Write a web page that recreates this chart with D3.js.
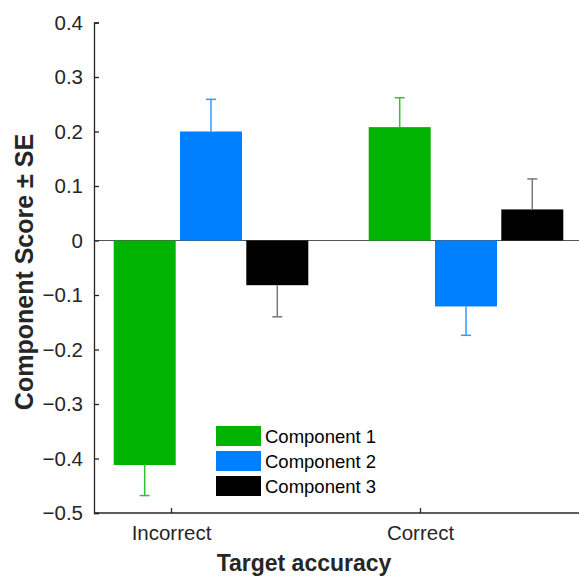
<!DOCTYPE html>
<html>
<head>
<meta charset="UTF-8">
<title>Component Score</title>
<script src="https://cdn.jsdelivr.net/npm/d3@7"></script>
<style>
body { margin: 0; background: #fff; }
text { font-family: Helvetica, "Liberation Sans", Arial, sans-serif; fill: #262626; }
</style>
</head>
<body>
<div id="chart"></div>
<script>
// data
var categories = ['Incorrect', 'Correct'];
var series = ['Component 1', 'Component 2', 'Component 3'];
var colors = ['#00b300', '#0080ff', '#000000'];
var errColors = ['#33c233', '#3399ff', '#777777'];
var means = [
    [-0.412, 0.2, -0.082],
    [0.208, -0.121, 0.057]
];
var errors = [
    [0.056, 0.059, 0.058],
    [0.054, 0.053, 0.056]
];
var yTicks = [-0.5, -0.4, -0.3, -0.2, -0.1, 0, 0.1, 0.2, 0.3, 0.4];

var W = 579, H = 577;
var svg = d3.select('#chart').append('svg').attr('width', W).attr('height', H);

// tick positions and bar group positions (the bars sit a bit right of the ticks)
var x = d3.scaleLinear().domain([1, 2]).range([171, 420]);
var xb = d3.scaleLinear().domain([1, 2]).range([211, 466]);
var y = d3.scaleLinear().domain([-0.5, 0.4]).range([513, 22.5]);
var barW = 62;
var offset = 0.26;

var g = svg.append('g');

// zero line
g.append('line')
    .attr('x1', 94).attr('x2', W)
    .attr('y1', y(0)).attr('y2', y(0))
    .attr('stroke', '#555').attr('stroke-width', 1);

categories.forEach(function(c, ci) {
    means[ci].forEach(function(v, si) {
        var cx = xb(ci + 1 + (si - 1) * offset);
        g.append('rect')
            .attr('x', cx - barW / 2)
            .attr('width', barW)
            .attr('y', y(Math.max(0, v)))
            .attr('height', Math.abs(y(v) - y(0)))
            .attr('fill', colors[si]);
        var end = v < 0 ? v - errors[ci][si] : v + errors[ci][si];
        g.append('line')
            .attr('x1', cx).attr('x2', cx)
            .attr('y1', y(v)).attr('y2', y(end))
            .attr('stroke', errColors[si]).attr('stroke-width', 1.5);
        g.append('line')
            .attr('x1', cx - 5).attr('x2', cx + 5)
            .attr('y1', y(end)).attr('y2', y(end))
            .attr('stroke', errColors[si]).attr('stroke-width', 1.5);
    });
});

// axes
var yAxis = d3.axisLeft(y).tickValues(yTicks).tickSize(-5).tickPadding(11)
    .tickFormat(function(d) { return d === 0 ? '0' : d3.format('.1f')(d); });
var ya = svg.append('g').attr('transform', 'translate(94,0)').call(yAxis);
ya.select('.domain').attr('stroke', '#262626').attr('stroke-width', 1.3);
ya.selectAll('.tick line').attr('stroke', '#262626').attr('stroke-width', 1.3);
ya.selectAll('text').attr('font-size', 20.5).style('fill', '#262626');

var xAxis = d3.axisBottom(x).tickValues([1, 2]).tickSize(-5).tickPadding(12)
    .tickFormat(function(d) { return categories[d - 1]; });
var xa = svg.append('g').attr('transform', 'translate(0,513)').call(xAxis);
xa.select('.domain').attr('d', 'M94,0H' + W).attr('stroke', '#262626').attr('stroke-width', 1.3);
xa.selectAll('.tick line').attr('stroke', '#262626').attr('stroke-width', 1.3);
xa.selectAll('text').attr('font-size', 20.5).style('fill', '#262626');

// axis titles
svg.append('text')
    .attr('transform', 'translate(33,272) rotate(-90)')
    .attr('text-anchor', 'middle')
    .attr('font-size', 25).attr('font-weight', 'bold')
    .text('Component Score \u00b1 SE');

svg.append('text')
    .attr('x', 304).attr('y', 571)
    .attr('text-anchor', 'middle')
    .attr('font-size', 23).attr('font-weight', 'bold')
    .text('Target accuracy');

// legend
var legend = svg.append('g').attr('transform', 'translate(216,426)');
series.forEach(function(s, i) {
    legend.append('rect')
        .attr('x', 0).attr('y', i * 25)
        .attr('width', 45).attr('height', 20)
        .attr('fill', colors[i]);
    legend.append('text')
        .attr('x', 49).attr('y', i * 25 + 17)
        .attr('font-size', 18.5)
        .style('fill', '#000')
        .text(s);
});
</script>
</body>
</html>
